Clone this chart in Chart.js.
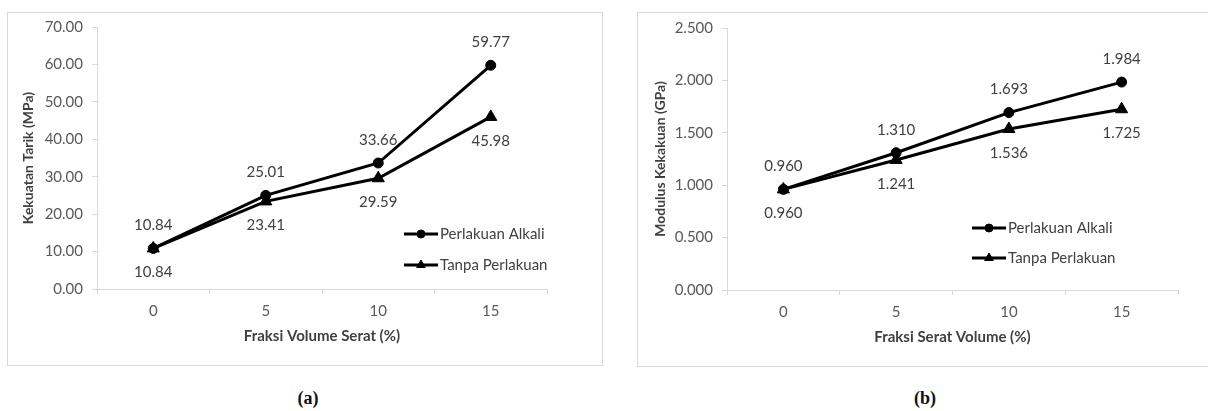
<!DOCTYPE html>
<html><head><meta charset="utf-8">
<script src="https://cdn.jsdelivr.net/npm/chart.js@4/dist/chart.umd.min.js"></script>
<style>
html,body{margin:0;padding:0;background:#fff;width:1208px;height:411px;overflow:hidden;position:relative;}
.box{position:absolute;border:1px solid #d9d9d9;box-sizing:border-box;}
.cv{position:absolute;top:0;}
.cap{position:absolute;font-family:"Liberation Serif","DejaVu Serif",serif;font-weight:bold;font-size:18px;transform:translate(-50%,-50%);color:#111;}
</style></head><body>
<div class="box" style="left:7px;top:12px;width:596px;height:354px"></div>
<div class="box" style="left:637px;top:12px;width:600px;height:355px"></div>
<canvas id="ca" class="cv" width="604" height="366" style="left:0;width:604px;height:366px"></canvas>
<canvas id="cb" class="cv" width="604" height="366" style="left:604px;width:604px;height:366px"></canvas>
<div class="cap" style="left:308px;top:398px">(a)</div>
<div class="cap" style="left:925px;top:398px">(b)</div>
<script>
// ---- data ----
const categories = ['0', '5', '10', '15'];
const seriesNames = ['Perlakuan Alkali', 'Tanpa Perlakuan'];
const tensileAlkali = [10.84, 25.01, 33.66, 59.77];
const tensileUntreated = [10.84, 23.41, 29.59, 45.98];
const modulusAlkali = [0.960, 1.310, 1.693, 1.984];
const modulusUntreated = [0.960, 1.241, 1.536, 1.725];
const tensileTickRange = [0, 70, 10];   // min, max, step
const modulusTickRange = [0, 2.5, 0.5];
const titlesA = ['Kekuatan Tarik (MPa)', 'Fraksi Volume Serat (%)'];
const titlesB = ['Modulus Kekakuan (GPa)', 'Fraksi Serat Volume (%)'];

const FONT = 'Lato, "Open Sans", "Liberation Sans", sans-serif';
Chart.defaults.font.family = FONT;

const valueLabels = {
  id: 'valueLabels',
  afterDatasetsDraw(chart, args, opts) {
    const ctx = chart.ctx;
    ctx.save();
    ctx.font = opts.font; ctx.fillStyle = opts.color;
    ctx.textAlign = 'center'; ctx.textBaseline = 'middle';
    chart.data.datasets.forEach((ds, di) => {
      const meta = chart.getDatasetMeta(di);
      meta.data.forEach((pt, i) => {
        ctx.fillText(ds.data[i].toFixed(opts.decimals), pt.x, pt.y + opts.offsets[di]);
      });
    });
    ctx.restore();
  }
};

const insetLegend = {
  id: 'insetLegend',
  afterDraw(chart, args, opts) {
    const {ctx, chartArea} = chart;
    ctx.save();
    chart.data.datasets.forEach((ds, di) => {
      const y = chartArea.bottom - opts.dy[di];
      const x0 = chartArea.right - opts.dx;
      ctx.strokeStyle = ds.borderColor; ctx.fillStyle = ds.pointBackgroundColor;
      ctx.lineWidth = ds.borderWidth;
      ctx.beginPath(); ctx.moveTo(x0, y); ctx.lineTo(x0 + opts.len, y); ctx.stroke();
      ctx.lineWidth = 1;
      Chart.helpers.drawPoint(ctx, {pointStyle: ds.pointStyle, rotation: 0, radius: opts.r[di], borderWidth: 1}, x0 + opts.len / 2, y);
      ctx.font = opts.font; ctx.fillStyle = opts.color;
      ctx.textAlign = 'left'; ctx.textBaseline = 'middle';
      ctx.fillText(ds.label, x0 + opts.len + 2, y);
    });
    ctx.restore();
  }
};

function ds(label, data, style, r) {
  return {label, data, borderColor: '#000', backgroundColor: '#000', borderWidth: 3,
    pointStyle: style, pointRadius: r, pointBackgroundColor: '#000', pointBorderColor: '#000',
    pointBorderWidth: 1, tension: 0, fill: false};
}

function make(id, a, b, range, dec, titles, geo) {
  return new Chart(document.getElementById(id), {
    type: 'line',
    data: {labels: categories, datasets: [ds(seriesNames[0], a, 'circle', 5), ds(seriesNames[1], b, 'triangle', 7)]},
    plugins: [valueLabels, insetLegend],
    options: {
      responsive: false, animation: false,
      layout: {padding: {left: 0, right: geo.right, top: geo.top, bottom: 0}},
      plugins: {
        legend: {display: false}, tooltip: {enabled: false},
        valueLabels: {font: '15px ' + FONT, color: '#404040', decimals: dec, offsets: [-23, 24]},
        insetLegend: {font: '15px ' + FONT, color: '#404040', dx: geo.ldx, dy: geo.ldy, len: 34, r: [4, 5]}
      },
      scales: {
        x: {
          offset: true,
          ticks: {color: '#595959', font: {size: 15}, padding: 8},
          grid: {offset: true, drawOnChartArea: false, tickLength: 5, color: '#d9d9d9'},
          border: {color: '#d9d9d9'},
          title: {display: true, text: titles[1], color: '#404040', font: {size: 15, weight: 'bold'}, padding: {top: 0, bottom: geo.xtp}},
          afterFit(s) { s.height = geo.xh; }
        },
        y: {
          min: range[0], max: range[1],
          ticks: {stepSize: range[2], color: '#595959', font: {size: 15}, padding: 9, callback: v => Number(v).toFixed(dec)},
          grid: {drawOnChartArea: false, tickLength: 5, color: '#d9d9d9'},
          border: {color: '#d9d9d9'},
          title: {display: true, text: titles[0], color: '#404040', font: {size: 14, weight: 'bold'}, padding: {top: geo.ytp, bottom: 0}},
          afterFit(s) { s.width = geo.yw; }
        }
      }
    }
  });
}

make('ca', tensileAlkali, tensileUntreated, tensileTickRange, 2, titlesA,
  {right: 57, top: 27, xh: 77, xtp: 21, yw: 97, ytp: 20, ldx: 143, ldy: [55, 24]});
make('cb', modulusAlkali, modulusUntreated, modulusTickRange, 3, titlesB,
  {right: 30, top: 28, xh: 76, xtp: 20, yw: 123, ytp: 48, ldx: 206, ldy: [62, 32]});
</script>
</body></html>
